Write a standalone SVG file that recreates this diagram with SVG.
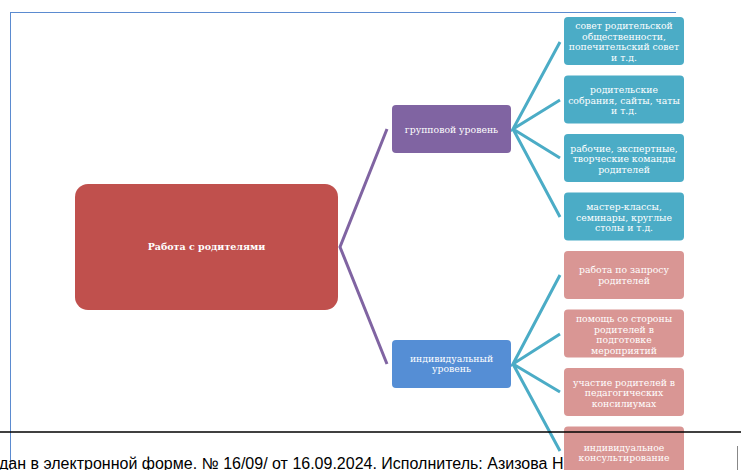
<svg xmlns="http://www.w3.org/2000/svg" width="741" height="470" viewBox="0 0 741 470">
<style>
.t{font-family:"DejaVu Serif","Liberation Serif",serif;fill:#fff;text-anchor:middle;font-size:9.3px}
.tb{font-family:"DejaVu Serif","Liberation Serif",serif;fill:#fff;text-anchor:middle;font-size:9.5px;font-weight:bold}
.teal{fill:#4BACC6}
.pink{fill:#D99694}
.cp{stroke:#8064A2;stroke-width:3;fill:none}
.ct{stroke:#4BACC6;stroke-width:3;fill:none}
</style>
<rect width="741" height="470" fill="#fff"/>
<g id="frame">
<line x1="10.5" y1="12" x2="10.5" y2="470" stroke="#5B8BD0" stroke-width="1"/>
<line x1="10" y1="12.5" x2="676" y2="12.5" stroke="#5B8BD0" stroke-width="1"/>
</g>
<g id="connectors">
<path class="cp" d="M387,129 L340,247 L387,364"/>
<path class="ct" d="M560,42 L513,129 L560,100 M513,129 L560,158 M513,129 L560,217"/>
<path class="ct" d="M560,275 L513,364 L560,334 M513,364 L560,392 M513,364 L560,451"/>
</g>
<g id="main">
<rect x="75" y="184" width="263" height="126" rx="13" fill="#C0504D"/>
<text class="tb" x="206.5" y="250">Работа  с родителями</text>
</g>
<g id="group">
<rect x="392" y="105" width="119" height="48" rx="4" fill="#8064A2"/>
<text class="t" x="451.5" y="132.5">групповой уровень</text>
</g>
<g id="individual">
<rect x="392" y="340" width="119" height="48" rx="4" fill="#558ED5"/>
<text class="t" x="451.5" y="361.5">индивидуальный</text>
<text class="t" x="451.5" y="372">уровень</text>
</g>
<g id="n1">
<rect class="teal" x="564" y="17" width="120" height="48" rx="4"/>
<text class="t" x="624" y="29">совет родительской</text>
<text class="t" x="624" y="39.5">общественности,</text>
<text class="t" x="624" y="50">попечительский совет</text>
<text class="t" x="624" y="60.5">и т.д.</text>
</g>
<g id="n2">
<rect class="teal" x="564" y="75.5" width="120" height="48" rx="4"/>
<text class="t" x="624" y="93">родительские</text>
<text class="t" x="624" y="103.5">собрания, сайты, чаты</text>
<text class="t" x="624" y="114">и т.д.</text>
</g>
<g id="n3">
<rect class="teal" x="564" y="134" width="120" height="48" rx="4"/>
<text class="t" x="624" y="151.5">рабочие, экспертные,</text>
<text class="t" x="624" y="162">творческие команды</text>
<text class="t" x="624" y="172.5">родителей</text>
</g>
<g id="n4">
<rect class="teal" x="564" y="192.5" width="120" height="48" rx="4"/>
<text class="t" x="624" y="210">мастер-классы,</text>
<text class="t" x="624" y="220.5">семинары, круглые</text>
<text class="t" x="624" y="231">столы и т.д.</text>
</g>
<g id="n5">
<rect class="pink" x="564" y="251" width="120" height="48" rx="4"/>
<text class="t" x="624" y="273">работа по запросу</text>
<text class="t" x="624" y="283.5">родителей</text>
</g>
<g id="n6">
<rect class="pink" x="564" y="309.5" width="120" height="48" rx="4"/>
<text class="t" x="624" y="322">помощь со стороны</text>
<text class="t" x="624" y="332.5">родителей в</text>
<text class="t" x="624" y="343">подготовке</text>
<text class="t" x="624" y="353.5">мероприятий</text>
</g>
<g id="n7">
<rect class="pink" x="564" y="368" width="120" height="48" rx="4"/>
<text class="t" x="624" y="385.5">участие родителей в</text>
<text class="t" x="624" y="396">педагогических</text>
<text class="t" x="624" y="406.5">консилиумах</text>
</g>
<g id="n8">
<rect class="pink" x="564" y="426.5" width="120" height="48" rx="4"/>
<text class="t" x="624" y="450.5">индивидуальное</text>
<text class="t" x="624" y="461">консультирование</text>
</g>
<g id="footer">
<line x1="0" y1="432" x2="741" y2="432" stroke="#000" stroke-width="1.5"/>
<text x="-1" y="469" font-family="'Liberation Sans',Arial,sans-serif" font-size="16" fill="#000">дан в электронной форме. № 16/09/ от 16.09.2024. Исполнитель: Азизова Н</text>
<line x1="737.5" y1="446" x2="737.5" y2="470" stroke="#888" stroke-width="1"/>
</g>
</svg>
